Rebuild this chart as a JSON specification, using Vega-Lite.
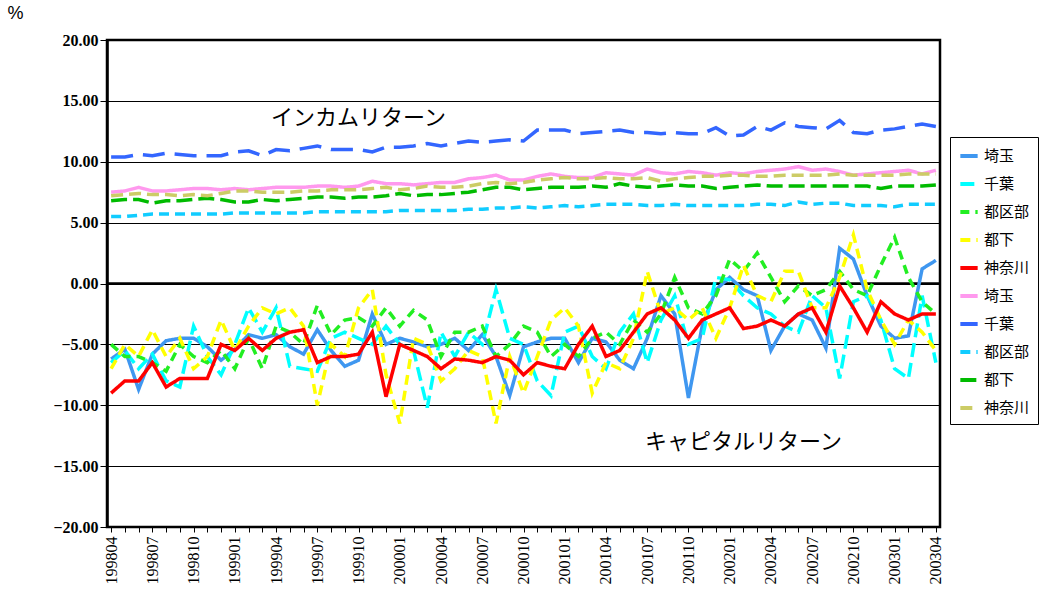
{
"$schema":"https://vega.github.io/schema/vega-lite/v6.json",
"autosize":"none","width":833,"height":487,
"padding":{"left":107,"top":40,"right":100,"bottom":75},
"background":"white",
"config":{"view":{"stroke":"black","strokeWidth":2.5},"font":"Liberation Serif"},
"layer":[
{"data":{"values":[{"y":0}]},"mark":{"type":"rule","color":"black","strokeWidth":2.5},"encoding":{"y":{"field":"y","type":"quantitative","scale":{"domain":[-20,20]}}}},
{"data":{"values":[
{"m":"199804","a":-6.2,"b":-6.5,"c":-5.0,"d":-7.0,"e":-9.0,"f":7.5,"g":10.4,"h":5.5,"i":6.8,"j":7.2},
{"m":"199805","a":-5.4,"b":-5.5,"c":-6.0,"d":-5.0,"e":-8.0,"f":7.6,"g":10.4,"h":5.5,"i":6.9,"j":7.3},
{"m":"199806","a":-8.7,"b":-7.0,"c":-6.0,"d":-6.0,"e":-8.0,"f":7.9,"g":10.6,"h":5.6,"i":6.9,"j":7.4},
{"m":"199807","a":-5.8,"b":-5.8,"c":-6.5,"d":-3.8,"e":-6.5,"f":7.6,"g":10.5,"h":5.7,"i":6.6,"j":7.3},
{"m":"199808","a":-4.7,"b":-8.0,"c":-7.2,"d":-6.0,"e":-8.5,"f":7.6,"g":10.7,"h":5.7,"i":6.8,"j":7.3},
{"m":"199809","a":-4.5,"b":-8.5,"c":-5.0,"d":-4.5,"e":-7.8,"f":7.7,"g":10.6,"h":5.7,"i":6.8,"j":7.2},
{"m":"199810","a":-4.5,"b":-3.5,"c":-6.0,"d":-7.0,"e":-7.8,"f":7.8,"g":10.5,"h":5.7,"i":6.9,"j":7.3},
{"m":"199811","a":-5.2,"b":-6.0,"c":-6.5,"d":-6.0,"e":-7.8,"f":7.8,"g":10.5,"h":5.7,"i":7.0,"j":7.2},
{"m":"199812","a":-6.3,"b":-7.5,"c":-5.5,"d":-3.0,"e":-5.0,"f":7.7,"g":10.5,"h":5.7,"i":6.9,"j":7.4},
{"m":"199901","a":-5.4,"b":-5.0,"c":-7.0,"d":-5.5,"e":-5.5,"f":7.8,"g":10.8,"h":5.8,"i":6.7,"j":7.6},
{"m":"199902","a":-4.2,"b":-2.0,"c":-4.5,"d":-3.5,"e":-4.5,"f":7.7,"g":10.9,"h":5.8,"i":6.7,"j":7.6},
{"m":"199903","a":-4.5,"b":-4.0,"c":-7.0,"d":-2.0,"e":-5.5,"f":7.8,"g":10.5,"h":5.8,"i":6.9,"j":7.5},
{"m":"199904","a":-4.2,"b":-2.0,"c":-3.5,"d":-2.5,"e":-4.5,"f":7.9,"g":11.0,"h":5.8,"i":6.8,"j":7.5},
{"m":"199905","a":-5.2,"b":-6.8,"c":-4.0,"d":-2.0,"e":-4.0,"f":7.9,"g":10.9,"h":5.8,"i":6.9,"j":7.5},
{"m":"199906","a":-5.8,"b":-7.0,"c":-5.0,"d":-3.5,"e":-3.8,"f":7.9,"g":11.1,"h":5.8,"i":7.0,"j":7.6},
{"m":"199907","a":-3.8,"b":-7.2,"c":-1.8,"d":-10.0,"e":-6.5,"f":8.0,"g":11.3,"h":5.9,"i":7.1,"j":7.6},
{"m":"199908","a":-5.5,"b":-4.5,"c":-4.2,"d":-5.0,"e":-6.0,"f":8.0,"g":11.0,"h":5.9,"i":7.1,"j":7.7},
{"m":"199909","a":-6.8,"b":-4.0,"c":-3.0,"d":-6.0,"e":-6.0,"f":7.9,"g":11.0,"h":5.9,"i":7.0,"j":7.7},
{"m":"199910","a":-6.3,"b":-4.5,"c":-2.8,"d":-2.0,"e":-5.8,"f":8.0,"g":11.0,"h":5.9,"i":7.1,"j":7.7},
{"m":"199911","a":-2.5,"b":-5.0,"c":-3.5,"d":-0.5,"e":-4.0,"f":8.4,"g":10.8,"h":5.9,"i":7.1,"j":7.8},
{"m":"199912","a":-5.0,"b":-3.5,"c":-2.0,"d":-7.5,"e":-9.3,"f":8.2,"g":11.2,"h":5.9,"i":7.2,"j":7.9},
{"m":"200001","a":-4.5,"b":-5.0,"c":-3.5,"d":-11.5,"e":-5.0,"f":8.2,"g":11.2,"h":6.0,"i":7.4,"j":7.7},
{"m":"200002","a":-4.8,"b":-5.5,"c":-2.2,"d":-4.5,"e":-5.5,"f":8.1,"g":11.3,"h":6.0,"i":7.2,"j":7.8},
{"m":"200003","a":-5.2,"b":-10.2,"c":-3.0,"d":-5.0,"e":-6.0,"f":8.2,"g":11.5,"h":6.0,"i":7.3,"j":8.0},
{"m":"200004","a":-5.0,"b":-4.0,"c":-6.0,"d":-8.0,"e":-7.0,"f":8.3,"g":11.3,"h":6.0,"i":7.3,"j":7.9},
{"m":"200005","a":-4.5,"b":-6.0,"c":-4.0,"d":-7.0,"e":-6.2,"f":8.3,"g":11.5,"h":6.0,"i":7.4,"j":7.9},
{"m":"200006","a":-5.5,"b":-4.0,"c":-4.0,"d":-5.5,"e":-6.3,"f":8.6,"g":11.7,"h":6.1,"i":7.5,"j":8.0},
{"m":"200007","a":-4.2,"b":-5.0,"c":-3.5,"d":-6.0,"e":-6.5,"f":8.7,"g":11.6,"h":6.1,"i":7.7,"j":8.2},
{"m":"200008","a":-6.0,"b":-0.5,"c":-6.0,"d":-11.5,"e":-6.0,"f":8.9,"g":11.7,"h":6.2,"i":7.9,"j":8.3},
{"m":"200009","a":-9.2,"b":-4.5,"c":-5.0,"d":-6.0,"e":-6.3,"f":8.5,"g":11.8,"h":6.2,"i":7.9,"j":8.2},
{"m":"200010","a":-5.2,"b":-5.0,"c":-3.5,"d":-9.0,"e":-7.5,"f":8.5,"g":11.7,"h":6.3,"i":7.7,"j":8.3},
{"m":"200011","a":-4.8,"b":-8.0,"c":-4.0,"d":-6.0,"e":-6.5,"f":8.8,"g":12.6,"h":6.2,"i":7.8,"j":8.5},
{"m":"200012","a":-4.5,"b":-9.2,"c":-6.0,"d":-3.0,"e":-6.8,"f":9.0,"g":12.6,"h":6.3,"i":7.9,"j":8.6},
{"m":"200101","a":-4.5,"b":-4.0,"c":-5.0,"d":-2.0,"e":-7.0,"f":8.8,"g":12.6,"h":6.4,"i":7.9,"j":8.7},
{"m":"200102","a":-6.5,"b":-3.5,"c":-6.0,"d":-3.5,"e":-5.0,"f":8.7,"g":12.3,"h":6.3,"i":7.9,"j":8.6},
{"m":"200103","a":-4.5,"b":-6.0,"c":-4.5,"d":-9.0,"e":-3.5,"f":8.7,"g":12.4,"h":6.4,"i":8.0,"j":8.6},
{"m":"200104","a":-4.8,"b":-7.0,"c":-4.0,"d":-6.5,"e":-6.0,"f":9.1,"g":12.5,"h":6.5,"i":7.9,"j":8.7},
{"m":"200105","a":-6.3,"b":-4.0,"c":-5.0,"d":-7.0,"e":-5.5,"f":9.0,"g":12.6,"h":6.5,"i":8.2,"j":8.6},
{"m":"200106","a":-7.0,"b":-2.5,"c":-3.0,"d":-4.5,"e":-4.0,"f":8.9,"g":12.4,"h":6.5,"i":8.0,"j":8.6},
{"m":"200107","a":-4.5,"b":-6.5,"c":-4.0,"d":1.0,"e":-2.5,"f":9.4,"g":12.4,"h":6.4,"i":7.9,"j":8.7},
{"m":"200108","a":-1.0,"b":-3.0,"c":-2.5,"d":-2.5,"e":-2.0,"f":9.1,"g":12.3,"h":6.4,"i":8.0,"j":8.4},
{"m":"200109","a":-2.5,"b":-1.0,"c":0.5,"d":-2.0,"e":-3.0,"f":9.0,"g":12.4,"h":6.5,"i":8.1,"j":8.6},
{"m":"200110","a":-9.4,"b":-5.0,"c":-2.0,"d":-3.0,"e":-4.5,"f":9.2,"g":12.3,"h":6.4,"i":8.0,"j":8.7},
{"m":"200111","a":-3.5,"b":-4.5,"c":-2.5,"d":-2.0,"e":-3.0,"f":9.1,"g":12.3,"h":6.4,"i":8.0,"j":8.8},
{"m":"200112","a":-0.5,"b":0.5,"c":-1.0,"d":-4.5,"e":-2.5,"f":8.9,"g":12.8,"h":6.4,"i":7.8,"j":8.8},
{"m":"200201","a":0.5,"b":0.3,"c":2.0,"d":-2.0,"e":-2.0,"f":9.1,"g":12.1,"h":6.4,"i":7.9,"j":8.9},
{"m":"200202","a":-0.5,"b":-1.0,"c":1.0,"d":1.5,"e":-3.7,"f":9.0,"g":12.2,"h":6.4,"i":8.0,"j":8.9},
{"m":"200203","a":-1.0,"b":-2.0,"c":2.5,"d":-1.0,"e":-3.5,"f":9.2,"g":12.9,"h":6.5,"i":8.1,"j":8.8},
{"m":"200204","a":-5.5,"b":-2.5,"c":0.5,"d":-1.5,"e":-3.0,"f":9.3,"g":12.6,"h":6.5,"i":8.0,"j":8.8},
{"m":"200205","a":-3.5,"b":-3.5,"c":-1.5,"d":1.0,"e":-3.5,"f":9.4,"g":13.2,"h":6.4,"i":8.0,"j":8.9},
{"m":"200206","a":-2.5,"b":-4.0,"c":-0.2,"d":1.0,"e":-2.5,"f":9.6,"g":12.9,"h":6.7,"i":8.0,"j":8.9},
{"m":"200207","a":-3.0,"b":-1.0,"c":-1.0,"d":-2.0,"e":-2.0,"f":9.3,"g":12.8,"h":6.5,"i":8.0,"j":8.9},
{"m":"200208","a":-5.3,"b":-2.0,"c":-0.5,"d":-2.0,"e":-4.0,"f":9.4,"g":12.7,"h":6.6,"i":8.0,"j":8.9},
{"m":"200209","a":2.9,"b":-7.8,"c":1.0,"d":0.5,"e":-0.2,"f":9.2,"g":13.4,"h":6.6,"i":8.0,"j":9.0},
{"m":"200210","a":2.0,"b":-1.5,"c":-0.5,"d":4.0,"e":-2.0,"f":8.9,"g":12.4,"h":6.4,"i":8.0,"j":8.9},
{"m":"200211","a":-1.0,"b":-1.0,"c":-1.0,"d":-0.5,"e":-4.0,"f":9.0,"g":12.3,"h":6.4,"i":8.0,"j":8.9},
{"m":"200212","a":-3.5,"b":-3.0,"c":1.5,"d":-3.0,"e":-1.5,"f":9.1,"g":12.6,"h":6.4,"i":7.8,"j":8.9},
{"m":"200301","a":-4.5,"b":-7.0,"c":3.8,"d":-5.0,"e":-2.5,"f":9.2,"g":12.7,"h":6.3,"i":8.0,"j":8.9},
{"m":"200302","a":-4.3,"b":-7.8,"c":0.5,"d":-3.0,"e":-3.0,"f":9.3,"g":12.9,"h":6.5,"i":8.0,"j":9.0},
{"m":"200303","a":1.2,"b":-1.0,"c":-1.5,"d":-4.0,"e":-2.5,"f":9.0,"g":13.1,"h":6.5,"i":8.0,"j":9.0},
{"m":"200304","a":1.9,"b":-6.5,"c":-2.5,"d":-5.5,"e":-2.5,"f":9.3,"g":12.9,"h":6.5,"i":8.1,"j":9.0}
]},
"transform":[{"fold":["a","b","c","d","e","f","g","h","i","j"],"as":["s","v"]}],
"mark":{"type":"line","strokeWidth":3.5},
"encoding":{
"x":{"field":"m","type":"ordinal","scale":{"type":"point","padding":0.3},"title":null,
"axis":{"labelAngle":-90,"labelFont":"Liberation Serif","labelFontSize":16,"labelColor":"black","domainColor":"black","tickColor":"black","labelExpr":"indexof(['01','04','07','10'], substring(datum.label,4,6)) >= 0 ? datum.label : ''","labelPadding":4}},
"y":{"field":"v","type":"quantitative","scale":{"domain":[-20,20]},
"axis":{"values":[-20,-15,-10,-5,0,5,10,15,20],"format":".2f","labelFont":"Liberation Serif","labelFontWeight":"bold","labelFontSize":16,"labelColor":"black","gridColor":"black","gridWidth":1,"domainColor":"black","domainWidth":2.5,"tickColor":"black","tickSize":7,
"title":"%","titleAngle":0,"titleX":-92,"titleY":-18,"titleFont":"Liberation Sans","titleFontSize":18,"titleFontWeight":"normal","titleColor":"black"}},
"color":{"field":"s","type":"nominal",
"scale":{"domain":["a","b","c","d","e","f","g","h","i","j"],"range":["#3f97f0","#00ffff","#22ee22","#ffff00","#ff0000","#ff99ee","#3366ff","#11ccff","#00bb00","#cccc66"]},
"legend":{"title":null,"orient":"none","legendX":843,"legendY":97,"strokeColor":"black","padding":8,"rowPadding":9,"symbolType":"stroke","symbolStrokeWidth":4,"symbolSize":300,"labelFont":"Noto Sans CJK JP","labelFontSize":15,"labelColor":"black","fillColor":"white",
"labelExpr":"({'a':'埼玉','b':'千葉','c':'都区部','d':'都下','e':'神奈川','f':'埼玉','g':'千葉','h':'都区部','i':'都下','j':'神奈川'})[datum.label]"}},
"strokeDash":{"field":"s","type":"nominal","legend":null,
"scale":{"domain":["a","b","c","d","e","f","g","h","i","j"],"range":[[1,0],[14,6],[9,6],[10,6],[1,0],[1,0],[22,10],[10,6],[16,6],[12,6]]}}
}},
{"data":{"values":[{"m":"199910","y":13.6,"t":"インカムリターン"},{"m":"200202","y":-13.0,"t":"キャピタルリターン"}]},
"mark":{"type":"text","font":"Noto Sans CJK JP","fontSize":22,"color":"black"},
"encoding":{"x":{"field":"m","type":"ordinal"},"y":{"field":"y","type":"quantitative"},"text":{"field":"t"}}}
]
}
